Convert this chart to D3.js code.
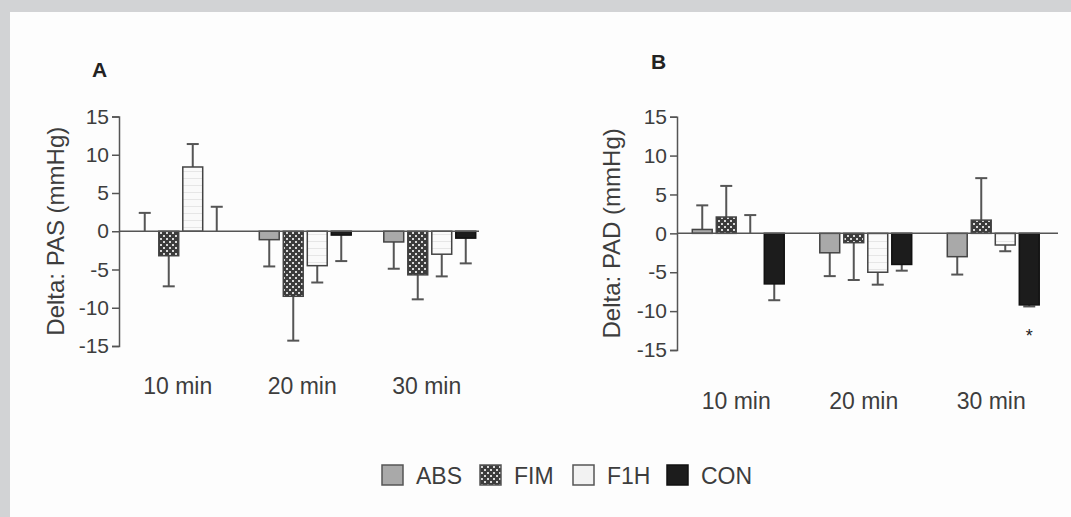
<!DOCTYPE html>
<html lang="en">

<head>
    <meta charset="UTF-8">
    <title>Delta PAS / PAD</title>
    <script src="https://cdn.jsdelivr.net/npm/d3@7"></script>
    <style>
        body { margin: 0; background: #d2d3d5; }
        svg { display: block; font-family: "Liberation Sans", Arial, sans-serif; }
    </style>
</head>

<body>
    <svg id="chart" width="1071" height="517"></svg>

    <script type="text/javascript">

        const groups = ['10 min', '20 min', '30 min']
        const series = ['ABS', 'FIM', 'F1H', 'CON']
        const yTicks = [15, 10, 5, 0, -5, -10, -15]

        // panel A - PAS, mean and SD per series (one value per group)
        const pasABS = [0.0, -1.1, -1.4]
        const pasABSsd = [2.4, 3.5, 3.5]
        const pasFIM = [-3.2, -8.5, -5.7]
        const pasFIMsd = [4.0, 5.8, 3.2]
        const pasF1H = [8.4, -4.5, -3.0]
        const pasF1Hsd = [3.0, 2.2, 2.9]
        const pasCON = [0.0, -0.5, -0.9]
        const pasCONsd = [3.2, 3.4, 3.3]

        // panel B - PAD
        const padABS = [0.5, -2.5, -3.0]
        const padABSsd = [3.1, 3.0, 2.3]
        const padFIM = [2.1, -1.2, 1.7]
        const padFIMsd = [4.0, 4.8, 5.4]
        const padF1H = [0.0, -5.0, -1.5]
        const padF1Hsd = [2.35, 1.6, 0.8]
        const padCON = [-6.5, -4.0, -9.2]
        const padCONsd = [2.1, 0.8, 0.2]
        const padStars = [{ group: '30 min', serie: 'CON' }]

        const svg = d3.select('#chart')

        svg.append('rect')
            .attr('x', 10).attr('y', 12)
            .attr('width', 1061).attr('height', 505)
            .attr('fill', '#fdfdfd')

        const defs = svg.append('defs')

        const dots = defs.append('pattern')
            .attr('id', 'pat-fim')
            .attr('patternUnits', 'userSpaceOnUse')
            .attr('width', 6).attr('height', 6)
        dots.append('rect').attr('width', 6).attr('height', 6).attr('fill', '#3c3c3c')
        dots.append('rect').attr('x', 1).attr('y', 1).attr('width', 2).attr('height', 2).attr('fill', '#d8d8d8')
        dots.append('rect').attr('x', 4).attr('y', 4).attr('width', 2).attr('height', 2).attr('fill', '#d8d8d8')

        const stripes = defs.append('pattern')
            .attr('id', 'pat-f1h')
            .attr('patternUnits', 'userSpaceOnUse')
            .attr('width', 6).attr('height', 7)
        stripes.append('rect').attr('width', 6).attr('height', 7).attr('fill', '#fafafa')
        stripes.append('rect').attr('y', 3).attr('width', 6).attr('height', 1).attr('fill', '#e6e6e6')

        const fills = {
            ABS: '#a9a9a9',
            FIM: 'url(#pat-fim)',
            F1H: 'url(#pat-f1h)',
            CON: '#1c1c1c'
        }

        const ink = '#3d3d3d'
        const lineCol = '#555'

        function buildRows(means, sds) {
            const rows = []
            groups.forEach((g, gi) => {
                series.forEach((s, si) => {
                    rows.push({ group: g, serie: s, mean: means[si][gi], sd: sds[si][gi] })
                })
            })
            return rows
        }

        function drawPanel(opt) {
            const g = svg.append('g')

            const y = d3.scaleLinear().domain([-15, 15]).range([opt.bottom, opt.top])
            const x = d3.scaleBand().domain(groups).range(opt.xRange)
            const inner = d3.scaleBand().domain(series).range([-48, 48])
                .paddingInner(0.17).paddingOuter(0.085)

            const rows = buildRows(opt.means, opt.sds)
            const cx = d => x(d.group) + x.bandwidth() / 2 + inner(d.serie)

            // error bars (one-sided, away from zero)
            const err = g.append('g').attr('stroke', lineCol).attr('stroke-width', 2)
            rows.forEach(d => {
                const dir = d.mean < 0 ? -1 : 1
                const end = d.mean + dir * d.sd
                const mx = cx(d) + inner.bandwidth() / 2
                err.append('line')
                    .attr('x1', mx).attr('x2', mx)
                    .attr('y1', y(d.mean)).attr('y2', y(end))
                err.append('line')
                    .attr('x1', mx - 6).attr('x2', mx + 6)
                    .attr('y1', y(end)).attr('y2', y(end))
            })

            g.selectAll('rect.bar')
                .data(rows.filter(d => d.mean !== 0))
                .join('rect')
                .attr('class', 'bar')
                .attr('x', d => cx(d))
                .attr('width', inner.bandwidth())
                .attr('y', d => y(Math.max(0, d.mean)))
                .attr('height', d => Math.abs(y(d.mean) - y(0)))
                .attr('fill', d => fills[d.serie])
                .attr('stroke', d => d.serie == 'CON' ? '#111' : '#444')
                .attr('stroke-width', 1.5)

            // zero line
            g.append('line')
                .attr('x1', opt.axisX).attr('x2', opt.zeroEnd)
                .attr('y1', y(0)).attr('y2', y(0))
                .attr('stroke', lineCol).attr('stroke-width', 1.5)

            const axis = g.append('g')
                .attr('transform', `translate(${opt.axisX},0)`)
                .call(d3.axisLeft(y).tickValues(yTicks).tickSize(7).tickPadding(3).tickFormat(d3.format('d')))
            axis.select('.domain').attr('stroke', lineCol).attr('stroke-width', 1.5)
            axis.selectAll('.tick line').attr('stroke', lineCol).attr('stroke-width', 1.5)
            axis.selectAll('.tick text')
                .attr('fill', ink)
                .style('font-size', '21px')
                .text(d => d < 0 ? '-' + Math.abs(d) : d)

            g.selectAll('text.cat')
                .data(groups)
                .join('text')
                .attr('class', 'cat')
                .attr('x', d => x(d) + x.bandwidth() / 2 + opt.labelShift)
                .attr('y', opt.labelY)
                .attr('text-anchor', 'middle')
                .attr('fill', ink)
                .style('font-size', '23px')
                .text(d => d)

            g.append('text')
                .attr('transform', `translate(${opt.titleX},${(opt.top + opt.bottom) / 2}) rotate(-90)`)
                .attr('text-anchor', 'middle')
                .attr('fill', ink)
                .style('font-size', '24px')
                .text(opt.title)

            g.append('text')
                .attr('x', opt.letter[0]).attr('y', opt.letter[1])
                .attr('fill', '#222')
                .style('font-size', '21px')
                .style('font-weight', 'bold')
                .text(opt.letter[2])

            if (opt.stars) {
                opt.stars.forEach(s => {
                    const d = rows.find(r => r.group == s.group && r.serie == s.serie)
                    g.append('text')
                        .attr('x', cx(d) + inner.bandwidth() / 2)
                        .attr('y', y(d.mean - d.sd) + 36)
                        .attr('text-anchor', 'middle')
                        .attr('fill', '#222')
                        .style('font-size', '18px')
                        .text('*')
                })
            }
        }

        drawPanel({
            means: [pasABS, pasFIM, pasF1H, pasCON],
            sds: [pasABSsd, pasFIMsd, pasF1Hsd, pasCONsd],
            top: 116.5, bottom: 346,
            axisX: 119, zeroEnd: 479,
            xRange: [118.5, 492],
            labelY: 394, labelShift: -3,
            titleX: 64,
            title: 'Delta: PAS (mmHg)',
            letter: [92, 77, 'A']
        })

        drawPanel({
            means: [padABS, padFIM, padF1H, padCON],
            sds: [padABSsd, padFIMsd, padF1Hsd, padCONsd],
            top: 116.7, bottom: 350,
            axisX: 677, zeroEnd: 1058,
            xRange: [674.5, 1057],
            labelY: 409, labelShift: -2,
            titleX: 620,
            title: 'Delta: PAD (mmHg)',
            letter: [651, 69, 'B'],
            stars: padStars
        })

        // legend
        const legend = svg.append('g').attr('transform', 'translate(382,465)')
        const legX = [0, 98, 191, 285]
        series.forEach((s, i) => {
            const item = legend.append('g').attr('transform', `translate(${legX[i]},0)`)
            item.append('rect')
                .attr('width', 21).attr('height', 20)
                .attr('fill', s == 'F1H' ? '#f2f2f2' : fills[s])
                .attr('stroke', s == 'CON' ? '#111' : '#555')
                .attr('stroke-width', 1.5)
            item.append('text')
                .attr('x', 34).attr('y', 19)
                .attr('fill', ink)
                .style('font-size', '23px')
                .text(s)
        })

    </script>
</body>

</html>
